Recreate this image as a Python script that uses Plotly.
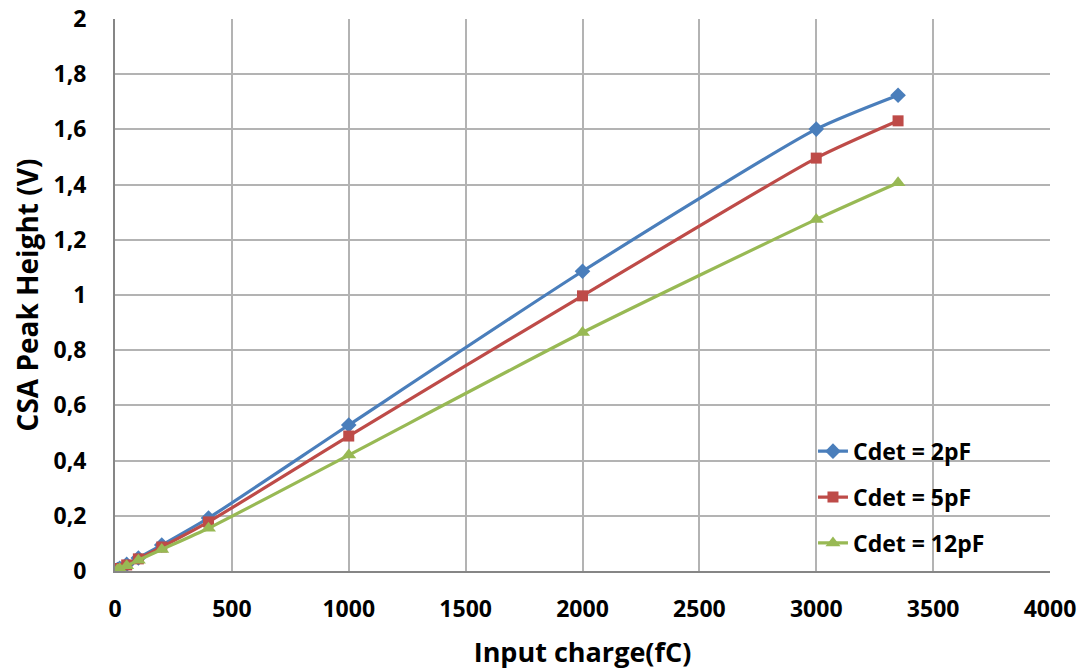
import plotly.graph_objects as go

charge_fc = [10, 20, 50, 100, 200, 400, 1000, 2000, 3000, 3350]
peak_2pf = [0.005, 0.010, 0.024, 0.047, 0.094, 0.192, 0.529, 1.086, 1.601, 1.724]
peak_5pf = [0.004, 0.009, 0.022, 0.044, 0.087, 0.178, 0.489, 0.997, 1.496, 1.631]
peak_12pf = [0.004, 0.008, 0.019, 0.039, 0.078, 0.155, 0.420, 0.864, 1.274, 1.407]

series = [
    ("Cdet = 2pF", peak_2pf, "#4a7ebb", "diamond", 12),
    ("Cdet = 5pF", peak_5pf, "#be4b48", "square", 11),
    ("Cdet = 12pF", peak_12pf, "#98b954", "triangle-up", 13),
]

font_family = "'Open Sans', Lato, sans-serif"
W = 700

fig = go.Figure()
for i, (name, vals, color, sym, size) in enumerate(series):
    fig.add_trace(go.Scatter(
        x=charge_fc, y=vals, name=name, mode="lines+markers",
        line=dict(color=color, width=3.2, shape="spline", smoothing=0.6),
        marker=dict(symbol=sym, size=size, color=color),
        legendgroup=f"g{i}",
    ))

fig.update_layout(
    width=1087, height=671,
    margin=dict(l=107, r=45, t=11, b=108, autoexpand=False),
    paper_bgcolor="white", plot_bgcolor="white",
    separators=",.",
    font=dict(family=font_family, size=20, color="black"),
    showlegend=True,
    legend=dict(
        x=0.7465, y=0.256, xanchor="left", yanchor="top",
        bgcolor="rgba(0,0,0,0)", tracegroupgap=13,
        font=dict(family=font_family, size=23, color="black", weight=W),
    ),
)
fig.update_xaxes(
    range=[0, 4000], dtick=500, tick0=0, automargin=False,
    showgrid=True, gridcolor="#b3b3b3", gridwidth=1.5,
    showline=True, linecolor="#868686", linewidth=2,
    zeroline=False, ticks="", mirror=False, ticklabelstandoff=16,
    ticklabeloverflow="allow",
    tickfont=dict(family=font_family, size=23, weight=W),
    title=dict(text="Input charge(fC)", font=dict(family=font_family, size=27, weight=W), standoff=21),
)
fig.update_yaxes(
    range=[0, 2], dtick=0.2, tick0=0, automargin=False,
    showgrid=True, gridcolor="#b3b3b3", gridwidth=1.5,
    showline=True, linecolor="#868686", linewidth=2,
    zeroline=False, ticks="", ticklabelstandoff=22,
    ticklabeloverflow="allow",
    tickfont=dict(family=font_family, size=23, weight=W),
    title=dict(text="CSA Peak Height (V)", font=dict(family=font_family, size=28, weight=W), standoff=11),
)

fig.write_html("out.html")
